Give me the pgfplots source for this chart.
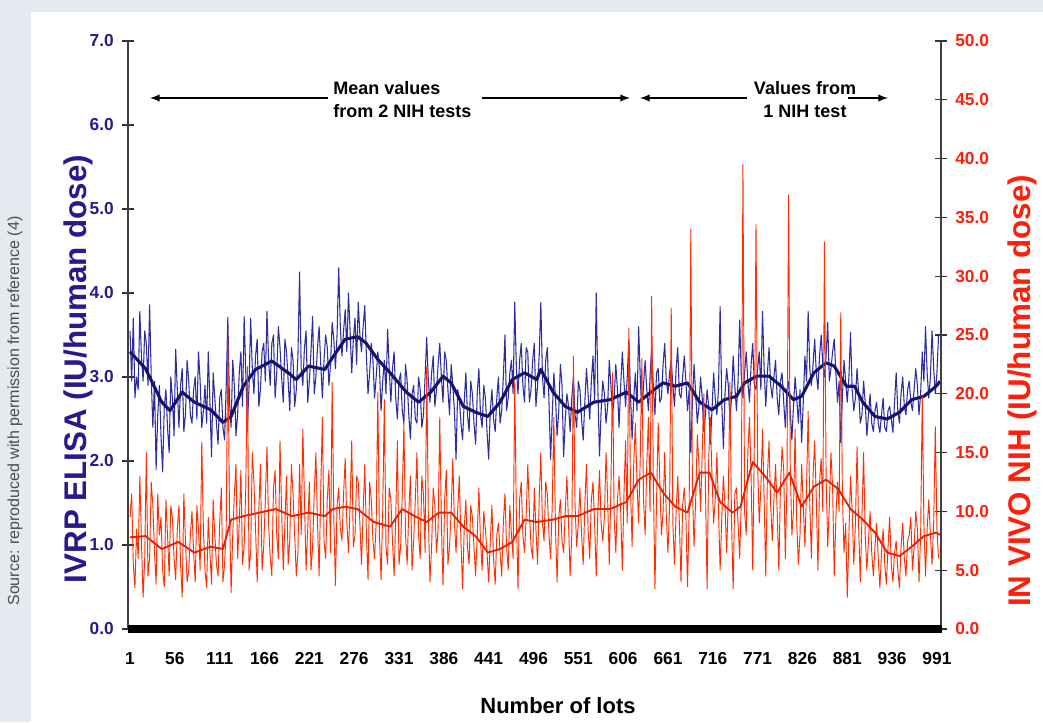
\documentclass[border=0pt]{standalone}
\usepackage{pgfplots}
\pgfplotsset{compat=1.18}
\usepackage{pgfplotstable}
\usepackage{fontspec}
\setmainfont{Liberation Sans}
\definecolor{bgray}{RGB}{230,234,240}
\definecolor{navyt}{RGB}{40,25,140}
\definecolor{bluen}{RGB}{45,45,160}
\definecolor{bluem}{RGB}{20,20,110}
\definecolor{redn}{RGB}{255,45,0}
\definecolor{redm}{RGB}{235,30,0}
\definecolor{redt}{RGB}{255,30,10}

\pgfplotstableread{
lot blue red
1 3.55 9.5
3 2.95 11.5
5 3.70 5.5
7 2.75 3.5
9 3.00 8.5
11 2.85 6.0
13 3.78 13.0
15 3.25 7.5
17 2.95 2.7
19 3.55 6.0
21 3.40 15.0
23 2.90 4.5
25 3.86 6.0
27 3.00 12.5
29 2.40 10.5
31 2.95 6.5
33 1.90 3.8
35 2.55 11.5
37 2.90 8.0
39 2.30 9.5
41 1.87 5.0
43 2.65 3.6
45 2.85 11.0
47 2.40 8.0
49 2.10 4.5
51 3.00 10.5
53 2.75 9.5
55 2.30 6.0
57 3.33 4.2
59 2.85 8.5
61 2.40 10.5
63 2.90 5.5
65 3.10 2.7
67 2.35 11.5
69 2.55 7.5
71 3.20 4.0
73 2.95 5.0
75 2.55 8.0
77 2.45 10.0
79 2.85 6.5
81 3.00 4.0
83 2.50 10.5
85 3.30 8.5
87 2.95 5.0
89 2.40 15.9
91 2.60 8.5
93 2.90 5.0
95 2.45 3.5
97 3.30 9.5
99 2.70 6.5
101 2.05 3.8
103 3.05 11.0
105 2.75 8.0
107 2.45 5.5
109 2.20 4.5
111 2.75 9.0
113 2.85 12.0
115 2.40 4.0
117 2.25 5.5
119 2.90 8.5
121 3.71 24.6
123 2.70 10.0
125 2.40 3.1
127 3.20 8.0
129 2.90 11.5
131 2.30 14.0
133 2.55 6.0
135 3.05 9.0
137 3.30 13.5
139 2.65 5.5
141 3.72 7.0
143 3.05 12.0
145 2.40 22.3
147 2.90 5.0
149 3.70 6.5
151 3.10 15.0
153 2.80 12.5
155 3.25 8.5
157 3.45 4.0
159 2.65 10.0
161 2.85 14.0
163 3.30 5.0
165 3.40 7.0
167 2.95 11.0
169 3.78 15.5
171 3.20 9.0
173 2.90 6.0
175 3.40 4.5
177 3.50 12.0
179 2.75 13.5
181 3.05 8.0
183 3.60 6.0
185 3.35 16.0
187 3.00 10.0
189 2.70 5.0
191 3.45 9.0
193 3.30 13.0
195 2.95 5.5
197 2.60 7.5
199 3.35 14.0
201 3.20 11.5
203 2.65 8.0
205 2.85 4.5
207 3.25 6.5
209 4.25 14.0
211 3.10 8.0
213 2.90 17.0
215 3.35 11.0
217 3.55 5.0
219 2.70 8.5
221 2.95 12.5
223 3.30 5.0
225 3.72 7.0
227 2.80 11.5
229 3.00 15.0
231 3.35 9.0
233 3.60 4.5
235 3.15 12.0
237 2.75 18.0
239 3.20 7.5
241 3.50 6.0
243 3.35 11.0
245 2.90 13.5
247 3.15 6.5
249 3.65 21.0
251 3.45 9.5
253 3.10 3.7
255 3.50 10.5
257 4.30 12.0
259 3.60 8.5
261 3.25 7.5
263 3.55 11.5
265 3.80 14.5
267 3.30 9.0
269 4.00 6.5
271 3.55 10.5
273 3.05 16.0
275 3.45 7.0
277 3.70 8.0
279 3.15 13.0
281 3.89 12.5
283 3.50 9.0
285 3.30 5.5
287 3.60 10.0
289 3.85 14.0
291 3.25 8.0
293 2.80 4.2
295 3.05 12.5
297 3.40 11.0
299 3.20 7.5
301 2.75 6.0
303 3.00 9.0
305 3.30 20.1
307 3.10 8.0
309 2.60 4.2
311 2.95 10.0
313 3.20 19.5
315 2.80 7.0
317 3.57 5.5
319 3.10 12.0
321 2.70 11.0
323 3.10 7.5
325 3.30 4.5
327 2.75 9.5
329 2.50 16.0
331 2.95 5.5
333 3.05 7.0
335 2.60 11.5
337 2.45 17.5
339 3.15 8.0
341 2.95 5.5
343 2.55 10.0
345 2.26 13.0
347 2.80 5.0
349 2.90 7.5
351 2.50 11.0
353 2.45 15.0
355 3.00 8.0
357 2.85 6.0
359 2.40 13.0
361 2.55 11.5
363 3.00 6.5
365 3.47 22.3
367 2.95 9.5
369 2.70 4.0
371 3.05 7.0
373 3.25 12.0
375 2.65 10.5
377 2.85 6.5
379 3.15 8.5
381 3.40 18.0
383 3.00 9.0
385 2.70 3.7
387 3.30 11.0
389 3.20 13.5
391 2.85 5.5
393 2.55 7.0
395 3.15 10.0
397 2.90 14.5
399 2.60 9.0
401 2.02 6.5
403 2.85 10.0
405 2.75 13.0
407 2.45 7.5
409 2.25 3.4
411 2.70 8.5
413 3.05 11.0
415 2.55 7.0
417 2.35 5.5
419 2.95 10.5
421 2.80 9.5
423 2.45 7.0
425 2.20 4.5
427 2.80 8.0
429 3.10 12.0
431 2.55 7.5
433 2.40 5.0
435 2.90 10.0
437 2.75 8.5
439 2.35 6.5
441 2.02 4.0
443 2.60 7.5
445 2.85 10.5
447 2.50 6.0
449 2.35 3.8
451 2.75 8.0
453 3.00 9.0
455 2.45 6.5
457 2.60 4.5
459 3.00 9.0
461 3.50 11.5
463 2.60 7.0
465 2.75 5.0
467 3.05 10.5
469 3.20 8.0
471 2.80 6.0
473 3.89 21.2
475 3.10 9.5
477 2.80 3.4
479 3.20 11.0
481 3.40 12.5
483 2.90 8.0
485 2.70 6.5
487 3.35 9.5
489 3.30 14.0
491 2.70 10.0
493 2.85 7.0
495 3.20 6.0
497 3.40 12.0
499 2.65 8.5
501 2.90 5.5
503 3.25 11.0
505 3.89 15.0
507 3.00 9.0
509 2.75 7.5
511 3.20 12.5
513 3.35 11.5
515 2.70 8.0
517 2.02 6.0
519 2.55 10.5
521 3.05 18.0
523 2.75 8.5
525 2.30 4.0
527 2.60 9.5
529 3.15 11.0
531 2.90 7.5
533 2.05 6.5
535 2.50 10.0
537 2.80 13.0
539 2.65 9.0
541 2.35 4.5
543 2.75 8.0
545 3.00 23.2
547 2.55 10.5
549 2.40 7.0
551 2.95 9.0
553 2.85 12.0
555 2.50 8.0
557 2.25 5.5
559 2.70 10.5
561 3.10 14.0
563 2.80 8.5
565 2.50 6.0
567 2.95 11.0
569 3.25 12.5
571 2.70 9.0
573 4.00 4.5
575 2.85 10.0
577 2.06 13.5
579 2.60 9.0
581 2.95 7.5
583 2.80 9.5
585 2.45 15.0
587 2.65 11.0
589 3.20 5.5
591 2.90 12.0
593 2.55 21.8
595 2.75 9.5
597 3.15 6.5
599 2.85 11.0
601 2.40 13.0
603 2.90 10.0
605 3.30 5.0
607 2.95 11.5
609 2.65 16.0
611 3.00 9.0
613 3.45 25.6
615 2.80 12.0
617 2.26 7.0
619 2.75 14.0
621 3.05 17.5
623 2.60 12.5
625 3.60 9.0
627 3.00 14.5
629 2.55 23.0
631 2.90 11.0
633 3.20 8.0
635 2.85 14.0
637 2.60 18.0
639 3.00 10.0
641 3.35 28.3
643 2.90 13.0
645 2.55 3.4
647 3.05 11.0
649 3.10 17.5
651 2.70 12.5
653 2.75 8.0
655 3.15 10.0
657 3.40 15.0
659 2.95 9.5
661 2.80 6.5
663 3.05 10.5
665 3.20 27.3
667 2.90 9.0
669 2.65 5.5
671 3.10 10.0
673 3.35 13.0
675 2.80 9.0
677 2.75 4.0
679 3.00 10.5
681 3.25 12.0
683 2.95 9.5
685 2.60 3.6
687 2.85 10.0
689 2.10 34.0
691 2.70 12.0
693 3.15 7.0
695 2.80 11.0
697 2.45 16.5
699 2.65 14.0
701 3.00 10.0
703 2.75 15.0
705 2.35 20.0
707 2.55 12.0
709 2.85 3.4
711 2.65 14.5
713 2.20 18.0
715 2.60 13.0
717 3.05 9.0
719 2.75 11.0
721 2.55 15.0
723 2.85 10.0
725 3.84 5.0
727 2.70 9.5
729 2.15 13.0
731 2.80 10.5
733 3.10 6.5
735 2.90 11.0
737 2.50 21.0
739 2.75 9.0
741 3.25 3.4
743 2.90 11.5
745 2.60 12.0
747 2.95 9.0
749 3.68 6.0
751 3.00 11.0
753 2.75 39.5
755 3.05 10.0
757 3.30 8.0
759 2.95 15.0
761 2.70 18.0
763 3.15 13.0
765 3.40 5.0
767 2.90 16.0
769 2.85 34.4
771 3.10 14.0
773 3.30 9.0
775 2.85 12.0
777 3.78 17.0
779 3.10 11.0
781 2.65 4.5
783 3.05 13.0
785 3.35 16.0
787 2.90 10.5
789 2.75 7.5
791 3.00 11.0
793 3.20 14.0
795 2.75 10.0
797 2.55 5.0
799 2.95 12.0
801 3.05 15.5
803 2.70 13.5
805 2.40 6.0
807 2.85 12.5
809 2.95 36.9
811 2.60 14.0
813 2.25 8.0
815 2.65 10.0
817 3.00 17.0
819 2.75 9.0
821 2.45 5.5
823 2.85 8.0
825 2.22 14.0
827 2.70 10.5
829 3.25 7.0
831 2.95 12.0
833 3.78 18.5
835 3.10 10.5
837 2.90 6.0
839 3.15 13.0
841 3.45 16.0
843 3.05 11.0
845 2.85 5.0
847 3.25 12.5
849 3.50 14.5
851 3.15 10.0
853 3.00 32.9
855 3.25 13.0
857 3.65 7.0
859 2.95 10.5
861 3.10 15.0
863 3.30 12.0
865 3.45 4.5
867 3.05 9.5
869 2.70 12.5
871 2.95 10.0
873 2.22 26.9
875 2.75 11.5
877 3.20 6.5
879 2.95 9.0
881 2.70 2.7
883 3.00 8.0
885 3.53 13.0
887 2.85 10.0
889 2.60 5.5
891 2.75 9.0
893 3.10 15.5
895 2.80 8.5
897 2.45 4.0
899 2.55 9.5
901 2.95 15.0
903 2.70 8.0
905 2.30 5.0
907 2.55 7.5
909 2.80 10.0
911 2.45 6.5
913 2.35 4.5
915 2.60 7.0
917 2.70 9.0
919 2.45 6.0
921 2.34 3.5
923 2.55 6.5
925 2.75 8.5
927 2.40 5.5
929 2.35 3.8
931 2.60 7.0
933 2.65 9.5
935 2.50 5.5
937 2.34 4.0
939 2.70 6.5
941 3.05 7.5
943 2.60 5.0
945 2.45 3.5
947 2.80 7.0
949 3.00 9.0
951 2.65 6.0
953 2.55 4.5
955 2.85 7.5
957 2.95 8.0
959 2.70 9.5
961 2.60 5.0
963 2.85 7.0
965 3.10 10.0
967 2.90 8.5
969 2.55 4.0
971 2.80 8.0
973 3.30 19.8
975 2.95 9.0
977 3.60 4.5
979 3.05 8.5
981 2.75 11.0
983 3.00 8.0
985 3.55 5.5
987 3.10 9.0
989 2.80 17.2
991 3.05 8.5
993 3.50 6.0
}\rawdata

\pgfplotstableread{
lot v
1 3.30
20 3.10
40 2.70
50 2.60
65 2.82
80 2.70
100 2.61
115 2.46
125 2.53
140 2.89
155 3.09
175 3.19
195 3.05
205 2.97
220 3.13
240 3.09
250 3.24
265 3.45
280 3.48
290 3.41
305 3.21
320 3.05
340 2.82
355 2.70
370 2.82
385 3.01
395 2.93
410 2.65
425 2.58
440 2.53
455 2.70
470 2.97
485 3.05
500 2.97
505 3.09
520 2.82
535 2.65
550 2.58
570 2.70
590 2.73
610 2.82
625 2.70
640 2.82
655 2.93
670 2.89
685 2.93
700 2.70
715 2.61
730 2.73
745 2.77
755 2.93
770 3.01
785 3.01
800 2.89
815 2.73
825 2.77
840 3.05
855 3.17
865 3.13
880 2.89
890 2.89
900 2.70
915 2.53
930 2.50
945 2.58
960 2.73
975 2.77
990 2.89
995 2.95
}\bluema

\pgfplotstableread{
lot v
1 7.8
20 7.9
40 6.8
60 7.4
80 6.5
100 7.0
115 6.8
125 9.3
140 9.6
160 9.9
180 10.2
200 9.6
220 9.9
240 9.6
250 10.2
265 10.4
280 10.2
300 9.1
320 8.7
335 10.2
350 9.6
365 9.1
380 9.9
395 9.9
410 8.7
425 7.9
440 6.5
455 6.8
470 7.4
485 9.3
500 9.1
520 9.3
535 9.6
550 9.6
570 10.2
590 10.2
610 10.8
625 12.7
640 13.3
655 11.6
670 10.4
685 9.9
700 13.3
712 13.3
725 10.8
740 9.9
750 10.4
765 14.2
780 13.0
795 11.6
810 13.3
825 10.4
840 12.1
855 12.7
870 11.9
885 10.2
900 9.3
915 8.2
930 6.5
945 6.2
960 7.0
975 7.9
990 8.2
995 8.0
}\redma

\begin{document}
\begin{tikzpicture}[x=0.75pt,y=-0.75pt]
\fill[bgray] (0,0) rectangle (1043,722);
\fill[white] (31,12) rectangle (1043,722);

\begin{axis}[
  at={(96pt,-471.75pt)}, anchor=south west,
  scale only axis, width=609.75pt, height=441pt,
  xmin=-1.5, xmax=996, ymin=0, ymax=7,
  axis y line*=left, axis x line*=bottom,
  x axis line style={draw=none},
  y axis line style={line width=1.1pt, black!75},
  xtick={1,56,...,991},
  ytick={0,1,...,7},
  tick align=center,
  major tick length=9pt,
  x tick style={draw=none},
  y tick style={line width=1pt, black!80},
  /pgf/number format/assume math mode=true,
  xticklabel style={font=\bfseries\fontsize{13}{15}\selectfont, text=black, inner sep=0pt, text height=9.6pt, text depth=0pt, anchor=north, yshift=-12pt},
  yticklabel style={font=\bfseries\fontsize{13}{15}\selectfont, text=navyt, inner sep=0pt, anchor=east, xshift=-6pt,
     /pgf/number format/.cd, fixed, fixed zerofill, precision=1},
  clip=false,
]
\addplot[bluen, line width=0.8pt, line join=round] table[x=lot, y=blue] {\rawdata};
\addplot[bluem, line width=2.3pt, line join=round] table[x=lot, y=v] {\bluema};
\end{axis}

\begin{axis}[
  at={(96pt,-471.75pt)}, anchor=south west,
  scale only axis, width=609.75pt, height=441pt,
  xmin=-1.5, xmax=996, ymin=0, ymax=50,
  axis y line*=right, axis x line=none,
  y axis line style={line width=1.1pt, black!75},
  ytick={0,5,...,50},
  tick align=center,
  major tick length=9pt,
  y tick style={line width=1pt, black!80},
  /pgf/number format/assume math mode=true,
  yticklabel style={font=\bfseries\fontsize{13}{15}\selectfont, text=redt, inner sep=0pt, anchor=west, xshift=6pt,
     /pgf/number format/.cd, fixed, fixed zerofill, precision=1},
]
\addplot[redn, line width=0.7pt, line join=round] table[x=lot, y=red] {\rawdata};
\addplot[redm, line width=1.4pt, line join=round] table[x=lot, y=v] {\redma};
\end{axis}

% thick black baseline bar
\fill[black] (128,625) rectangle (942,633);

% annotations
\begin{scope}[line width=1.5pt, >=latex]
\draw[->] (328,98) -- (150,98);
\draw[->] (482,98) -- (630,98);
\draw[->] (747,98) -- (640,98);
\draw[->] (848,98) -- (888,98);
\end{scope}
\node[anchor=west, inner sep=0pt, font=\bfseries\fontsize{13.5}{17}\selectfont] at (333,88) {Mean values};
\node[anchor=west, inner sep=0pt, font=\bfseries\fontsize{13.5}{17}\selectfont] at (333,111) {from 2 NIH tests};
\node[inner sep=0pt, font=\bfseries\fontsize{13.5}{17}\selectfont] at (805,88) {Values from};
\node[inner sep=0pt, font=\bfseries\fontsize{13.5}{17}\selectfont] at (805,111) {1 NIH test};

% axis titles
\node[rotate=90, inner sep=0pt, text=navyt, font=\bfseries\fontsize{23.5}{26}\selectfont] at (78,369) {IVRP ELISA (IU/human dose)};
\node[rotate=90, inner sep=0pt, text=redt, font=\bfseries\fontsize{23.5}{26}\selectfont] at (1022,391) {IN VIVO NIH (IU/human dose)};
\node[inner sep=0pt, font=\bfseries\fontsize{16.5}{19}\selectfont] at (558,706) {Number of lots};
\node[rotate=90, inner sep=0pt, text=black!70, font=\fontsize{12}{14}\selectfont] at (15,411) {Source: reproduced with permission from reference (4)};

\pgfresetboundingbox
\path[use as bounding box] (0,0) rectangle (1043,722);
\end{tikzpicture}
\end{document}
